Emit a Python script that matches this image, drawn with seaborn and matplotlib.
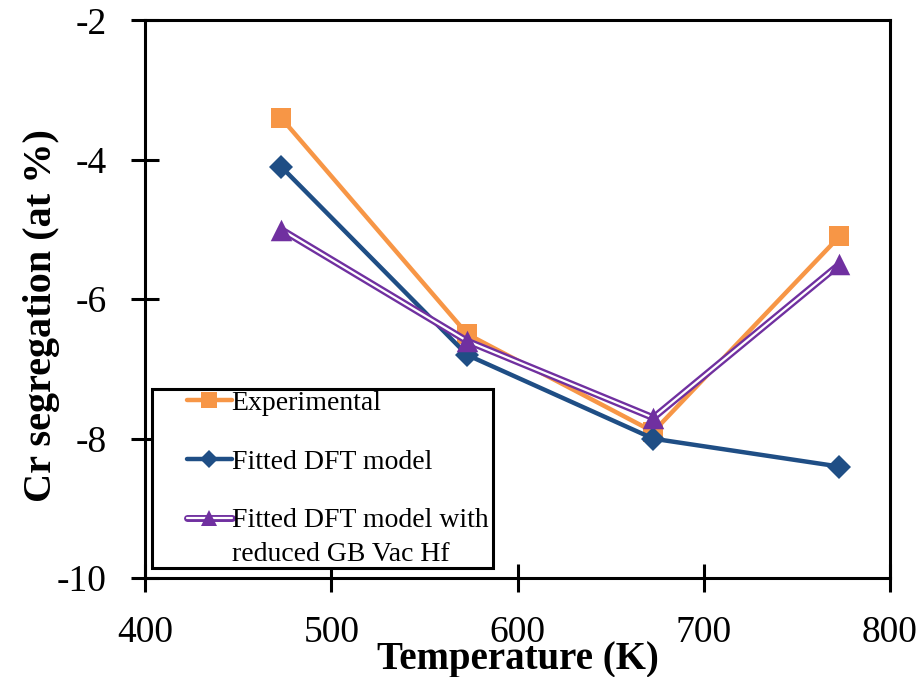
import matplotlib
matplotlib.use("Agg")
import matplotlib.pyplot as plt
import seaborn as sns
import pandas as pd
from matplotlib.lines import Line2D
from matplotlib.legend_handler import HandlerTuple

temps = [473, 573, 673, 773]
experimental = [-3.4, -6.5, -7.9, -5.1]
fitted_dft = [-4.1, -6.8, -8.0, -8.4]
fitted_reduced = [-5.0, -6.6, -7.7, -5.5]
labels = ["Experimental", "Fitted DFT model", "Fitted DFT model with\nreduced GB Vac Hf"]
x_ticks = [400, 500, 600, 700, 800]
y_ticks = [-10, -8, -6, -4, -2]

sns.set_theme(style="ticks")
plt.rcParams['font.family'] = ['Liberation Serif', 'DejaVu Serif']
plt.rcParams['text.color'] = 'black'
plt.rcParams['axes.labelcolor'] = 'black'

c_exp = "#F79646"
c_dft = "#1F4E85"
c_red = "#7030A0"

df_exp = pd.DataFrame({"T": temps, "v": experimental})
df_dft = pd.DataFrame({"T": temps, "v": fitted_dft})
df_red = pd.DataFrame({"T": temps, "v": fitted_reduced})

fig = plt.figure(figsize=(9.2, 6.77), dpi=100)
ax = fig.add_axes([0.158, 0.146, 0.809, 0.824])

sns.lineplot(data=df_exp, x="T", y="v", ax=ax, color=c_exp, lw=3.2, marker="s",
             markersize=14, markeredgewidth=0, zorder=3)
sns.lineplot(data=df_dft, x="T", y="v", ax=ax, color=c_dft, lw=3.2, marker="D",
             markersize=12.5, markeredgewidth=0, zorder=4)
sns.lineplot(data=df_red, x="T", y="v", ax=ax, color=c_red, lw=5, zorder=5)
sns.lineplot(data=df_red, x="T", y="v", ax=ax, color="white", lw=1.6, zorder=6)
sns.scatterplot(data=df_red, x="T", y="v", ax=ax, color=c_red, marker="^",
                s=240, linewidth=0, zorder=7)

ax.set_xlim(400, 800)
ax.set_ylim(-10, -2)
ax.set_xticks(x_ticks)
ax.set_yticks(y_ticks)
ax.set_xticklabels([str(t) for t in x_ticks])
ax.set_yticklabels([str(t) for t in y_ticks])
ax.tick_params(axis='both', which='major', direction='inout', length=20, width=2.2,
               colors='black', labelsize=27, labelcolor='black',
               bottom=True, left=True, top=False, right=False)
ax.tick_params(axis='x', pad=17)
ax.tick_params(axis='y', pad=18)
for s in ax.spines.values():
    s.set_visible(True)
    s.set_linewidth(2.2)
    s.set_color('black')

ax.set_xlabel("Temperature (K)", fontsize=28, fontweight='bold')
ax.set_ylabel("Cr segregation (at %)", fontsize=29, fontweight='bold')
ax.xaxis.set_label_coords(0.5, -0.112)
ax.yaxis.set_label_coords(-0.115, 0.47)


class ShiftedTuple(HandlerTuple):
    def __init__(self, xoff=0, yshift=0, **kw):
        super().__init__(**kw)
        self.xoff = xoff
        self.yshift = yshift

    def create_artists(self, legend, orig_handle, xdescent, ydescent, width,
                       height, fontsize, trans):
        return super().create_artists(legend, orig_handle,
                                      xdescent - self.xoff,
                                      ydescent - 2 * self.yshift,
                                      width - self.xoff, height,
                                      fontsize, trans)


h_exp = Line2D([], [], color=c_exp, lw=3.2, marker="s", markersize=11, markeredgewidth=0)
h_dft = Line2D([], [], color=c_dft, lw=3.2, marker="D", markersize=9, markeredgewidth=0)
h_red1 = Line2D([], [], color=c_red, lw=5)
h_red2 = Line2D([], [], color="white", lw=1.6)
h_red3 = Line2D([], [], color=c_red, lw=0, marker="^", markersize=12, markeredgewidth=0)

t_exp = (h_exp,)
t_dft = (h_dft,)
t_red = (h_red1, h_red2, h_red3)
leg = ax.legend([t_exp, t_dft, t_red], labels,
                handler_map={t_exp: ShiftedTuple(xoff=24, yshift=0, ndivide=1, pad=0),
                             t_dft: ShiftedTuple(xoff=24, yshift=0, ndivide=1, pad=0),
                             t_red: ShiftedTuple(xoff=24, yshift=14, ndivide=1, pad=0)},
                loc="lower left", bbox_to_anchor=(0.0094, 0.018, 0.458, 0.32),
                mode="expand", fontsize=20, frameon=True, fancybox=False,
                handlelength=2.8, handletextpad=0.0, labelspacing=1.2,
                borderpad=0.05, borderaxespad=0)
leg.get_texts()[2].set_linespacing(1.45)
leg.get_frame().set_edgecolor('black')
leg.get_frame().set_linewidth(2.2)
leg.get_frame().set_facecolor('white')
leg.get_frame().set_alpha(1)

fig.savefig("out.png", dpi=100)
